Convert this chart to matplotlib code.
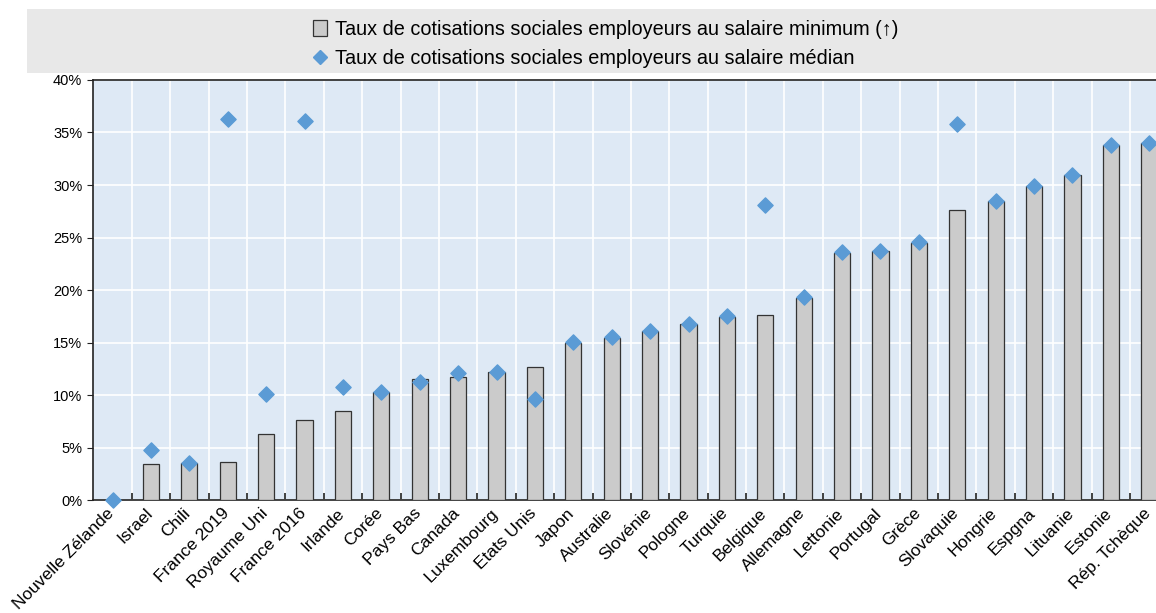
import numpy as np
import matplotlib
matplotlib.use("Agg")
import matplotlib.pyplot as plt
from matplotlib.patches import Rectangle, Patch
from matplotlib.lines import Line2D
from matplotlib.ticker import PercentFormatter

plt.rcParams['font.family'] = ['Liberation Sans', 'DejaVu Sans']

pays = ["Nouvelle Zélande", "Israel", "Chili", "France 2019", "Royaume Uni", "France 2016",
        "Irlande", "Corée", "Pays Bas", "Canada", "Luxembourg", "Etats Unis", "Japon",
        "Australie", "Slovénie", "Pologne", "Turquie", "Belgique", "Allemagne", "Lettonie",
        "Portugal", "Grèce", "Slovaquie", "Hongrie", "Espgna", "Lituanie", "Estonie",
        "Rép. Tchèque"]

# taux au salaire minimum (barres), en %
taux_min = [0.0, 3.46, 3.49, 3.65, 6.32, 7.65, 8.48, 10.25, 11.49, 11.68, 12.16, 12.63,
            15.0, 15.46, 16.06, 16.73, 17.46, 17.59, 19.27, 23.52, 23.75, 24.51, 27.59,
            28.48, 29.87, 30.98, 33.78, 33.97]
# taux au salaire médian (losanges), en %
taux_med = [0.0, 4.76, 3.56, 36.25, 10.13, 36.06, 10.73, 10.32, 11.24, 12.1, 12.16, 9.62,
            15.08, 15.52, 16.13, 16.76, 17.56, 28.1, 19.3, 23.59, 23.75, 24.57, 35.81,
            28.48, 29.9, 30.98, 33.78, 34.03]

bar_col = "#cbcbcb"
dia_col = "#5b9bd5"
bg_col = "#dee9f5"

fig = plt.figure(figsize=(11.56, 6.13), dpi=100)
ax = fig.add_axes([0.0802, 0.1843, 0.9198, 0.6852])
ax.set_facecolor(bg_col)

x = np.arange(len(pays))
ax.bar(x, taux_min, width=0.42, color=bar_col, edgecolor="#333333", linewidth=0.9, zorder=3)
ax.scatter(x, taux_med, marker="D", s=60, color=dia_col, zorder=4, clip_on=False)

ax.set_xlim(-0.516, 27.175)
ax.set_ylim(0, 40)
ax.set_yticks(np.arange(0, 41, 5))
ax.yaxis.set_major_formatter(PercentFormatter(decimals=0))

# etiquettes des pays placees a la main (decalees un peu a gauche)
ax.set_xticks(x)
ax.set_xticklabels([])
for i, p in enumerate(pays):
    ax.annotate(p, xy=(i, 0), xycoords=("data", "axes fraction"),
                xytext=(-4.5, -4), textcoords="offset points",
                rotation=45, ha="right", va="top", rotation_mode="anchor",
                fontsize=12.5, annotation_clip=False)
ax.set_xticks(np.arange(0.5, len(pays) - 1, 1), minor=True)
ax.tick_params(axis="x", which="major", length=0)
ax.tick_params(axis="x", which="minor", direction="in", length=5, width=1.2, color="#222222")
ax.tick_params(axis="y", length=4, labelsize=10.5, color="#222222")

ax.grid(axis="y", color="white", linewidth=1.2, zorder=1)
ax.grid(axis="x", which="minor", color="white", linewidth=1.2, zorder=1)
ax.set_axisbelow(True)

for s in ["left", "bottom", "top"]:
    ax.spines[s].set_color("#222222")
    ax.spines[s].set_linewidth(1.2)
ax.spines["right"].set_visible(False)

# cadre gris de la légende
fig.patches.append(Rectangle((27 / 1156, 1 - 73 / 613), 1 - 27 / 1156, 64 / 613,
                             transform=fig.transFigure, facecolor="#e8e8e8",
                             edgecolor="none", zorder=0))

handles = [Patch(facecolor=bar_col, edgecolor="#333333", linewidth=0.9),
           Line2D([], [], marker="D", linestyle="none", color=dia_col, markersize=7)]
labels = ["Taux de cotisations sociales employeurs au salaire minimum (↑)",
          "Taux de cotisations sociales employeurs au salaire médian"]
fig.legend(handles, labels, loc="upper left", bbox_to_anchor=(305 / 1156, 1 - 12 / 613),
           frameon=False, fontsize=14.3, handlelength=0.7, handleheight=0.9,
           handletextpad=0.4, labelspacing=0.5, borderaxespad=0)

fig.savefig("out.png", dpi=100)
